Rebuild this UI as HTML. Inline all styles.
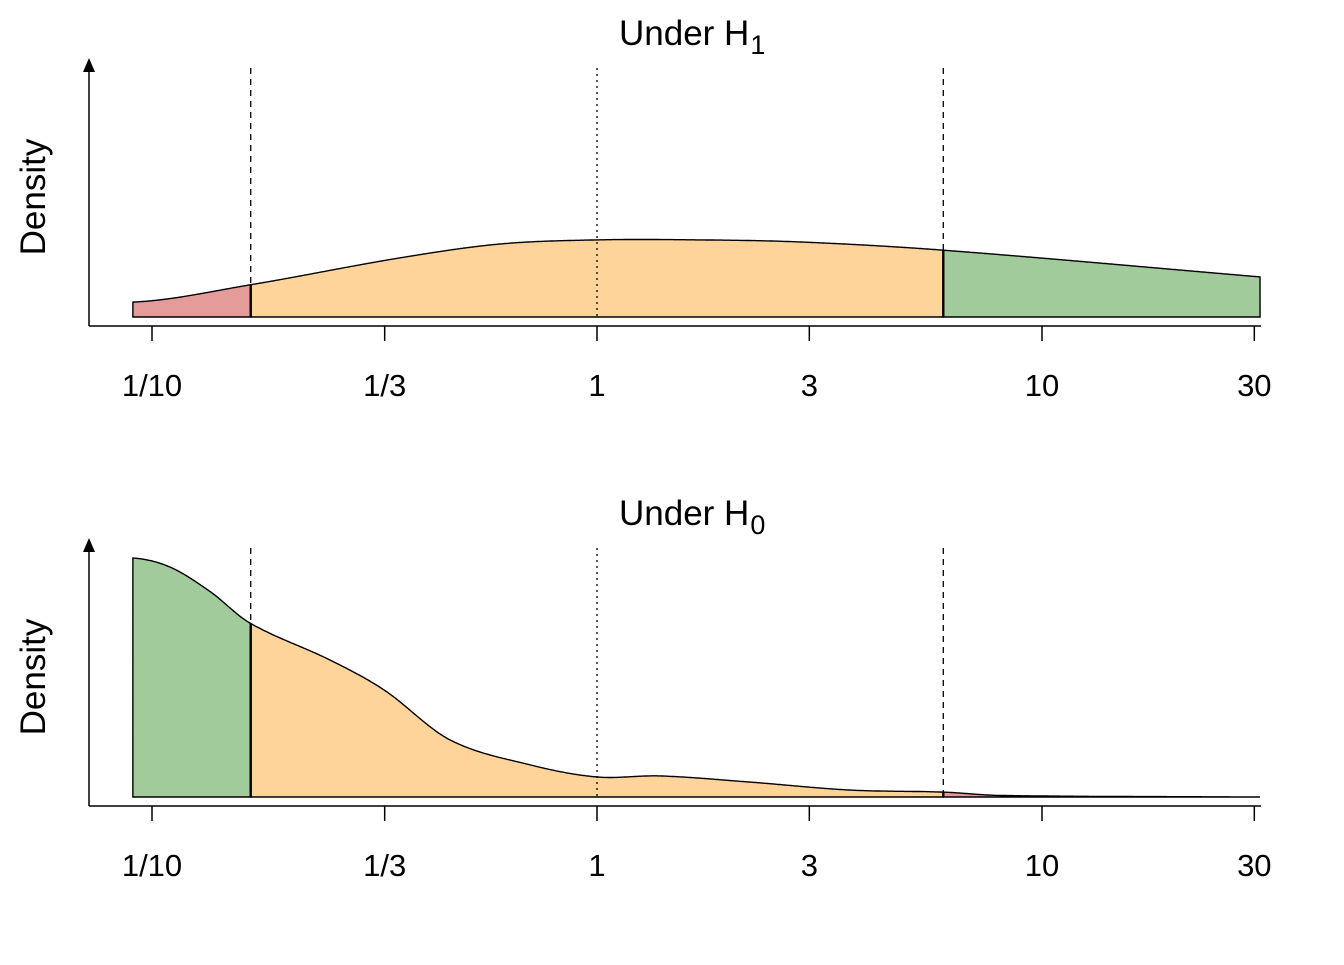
<!DOCTYPE html>
<html><head><meta charset="utf-8"><style>
body{margin:0;background:#fff}
svg text{font-family:"Liberation Sans",Arial,sans-serif;fill:#000}
</style></head><body>
<svg id="chart" width="1344" height="960" xmlns="http://www.w3.org/2000/svg"></svg>
<script>
const tickValues=[0.1,1/3,1,3,10,30];
const tickLabels=["1/10","1/3","1","3","10","30"];
const thresholds=[1/6,6];
const h1LogBF=[-1.043,-0.78,-0.443,-0.218,0,0.231,0.456,0.778,1.49];
const h1Density=[0.058,0.125,0.23,0.284,0.30,0.30,0.292,0.26,0.156];
const h0LogBF=[-1.043,-0.96,-0.87,-0.78,-0.6,-0.478,-0.33,-0.15,0,0.142,0.344,0.569,0.778,0.906,1.49];
const h0Density=[0.93,0.895,0.80,0.677,0.533,0.416,0.222,0.125,0.078,0.082,0.058,0.027,0.019,0.006,0];
const RED="#e69b9b",ORANGE="#fed49b",GREEN="#a1cb9a";
const svg=document.getElementById('chart');const NS="http://www.w3.org/2000/svg";
function el(t,a,p){const e=document.createElementNS(NS,t);for(const k in a)e.setAttribute(k,a[k]);(p||svg).appendChild(e);return e;}
const xScale=v=>597+445*Math.log10(v);
const xLog=l=>597+445*l;
function interp(xs,ys,x){
  let i=0;while(i<xs.length-2&&x>xs[i+1])i++;
  const x0=xs[i],x1=xs[i+1],h=x1-x0,t=(x-x0)/h;
  const m=k=>{if(k===0)return 0.3*(ys[1]-ys[0])/(xs[1]-xs[0]);if(k===xs.length-1)return (ys[k]-ys[k-1])/(xs[k]-xs[k-1]);return (ys[k+1]-ys[k-1])/(xs[k+1]-xs[k-1]);};
  const m0=m(i)*h,m1=m(i+1)*h,t2=t*t,t3=t2*t;
  return (2*t3-3*t2+1)*ys[i]+(t3-2*t2+t)*m0+(-2*t3+3*t2)*ys[i+1]+(t3-t2)*m1;
}
function panel(name,top,sub,xs,ys,colors){
  const base=top+257,axisY=base+9;
  const g=el('g',{});
  
  
  const yS=d=>base-257*d;
  const xa=xs.map(xLog);
  const lo=xa[0],hi=xa[xa.length-1];
  const cuts=[lo,xScale(thresholds[0]),xScale(thresholds[1]),hi];
  const regionNames=['region-low','region-mid','region-high'];
  for(let r=0;r<3;r++){
    let pts=[];
    for(let x=cuts[r];x<cuts[r+1];x+=1)pts.push([x,yS(interp(xa,ys,x))]);
    pts.push([cuts[r+1],yS(interp(xa,ys,cuts[r+1]))]);
    let d=`M${cuts[r]},${base} `+pts.map(p=>`L${p[0].toFixed(1)},${p[1].toFixed(1)}`).join(' ')+` L${cuts[r+1]},${base} Z`;
    const p=el('path',{d,fill:colors[r],stroke:'#000','stroke-width':1.4},g);
    
    
  }
  [cuts[1],cuts[2]].forEach(x=>{
    const b=el('line',{x1:x,x2:x,y1:yS(interp(xa,ys,x)),y2:base,stroke:'#000','stroke-width':2.4},g);
    
    
  });
  [[xScale(thresholds[0]),'6,5','threshold-low-line'],[597,'2,4','bf1-line'],[xScale(thresholds[1]),'6,5','threshold-high-line']].forEach(([x,da,n])=>{
    const l=el('line',{x1:x,x2:x,y1:top+8,y2:base,stroke:'#000','stroke-width':1.3,'stroke-dasharray':da},g);
    
    
  });
  const xa2=el('line',{x1:89,x2:1261,y1:axisY,y2:axisY,stroke:'#000','stroke-width':1.5},g);
  
  const ya=el('line',{x1:89,x2:89,y1:axisY,y2:top+8,stroke:'#000','stroke-width':1.5},g);
  
  const ar=el('path',{d:`M89,${top-2} L83,${top+12} L95,${top+12} Z`,fill:'#000'},g);
  
  tickValues.forEach((v,i)=>{
    const x=xScale(v);
    const t=el('line',{x1:x,x2:x,y1:axisY,y2:axisY+15,stroke:'#000','stroke-width':1.5},g);
    
    const tx=el('text',{x:x,y:axisY+70,'text-anchor':'middle','font-size':31},g);
    tx.textContent=tickLabels[i];
    
  });
  const yl=el('text',{x:0,y:0,transform:`translate(45,${top+137}) rotate(-90)`,'text-anchor':'middle','font-size':35},g);
  yl.textContent='Density';
  
  const tt=el('text',{x:619,y:top-15,'font-size':35},g);
  tt.innerHTML=`Under H<tspan dx="1" dy="9" font-size="27">${sub}</tspan>`;
  
}
panel('panel-under-h1',60,'1',h1LogBF,h1Density,[RED,ORANGE,GREEN]);
panel('panel-under-h0',540,'0',h0LogBF,h0Density,[GREEN,ORANGE,RED]);
</script>
</body></html>
